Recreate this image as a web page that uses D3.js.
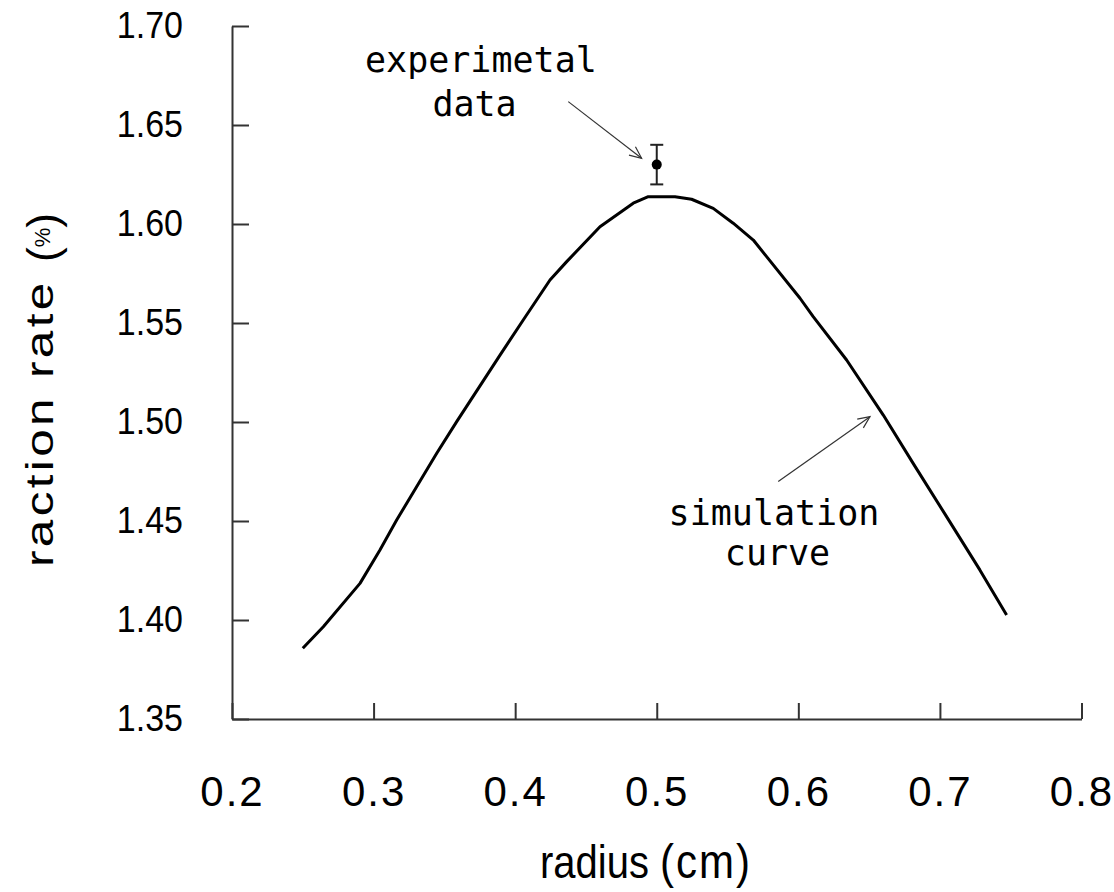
<!DOCTYPE html>
<html>
<head>
<meta charset="utf-8">
<script src="https://cdn.jsdelivr.net/npm/d3@7"></script>
<style>
  html, body { margin: 0; padding: 0; background: #fff; }
  svg { display: block; }
</style>
</head>
<body>
<svg id="chart" width="1114" height="892"></svg>
<script>
// ---- data ----
const simRadius = [0.25, 0.2645, 0.2904, 0.3045, 0.3163, 0.3304, 0.3446, 0.3587, 0.3893, 0.4057, 0.4246, 0.4364, 0.4599, 0.4834, 0.494, 0.5129, 0.5246, 0.5399, 0.554, 0.5682, 0.5776, 0.6012, 0.6105, 0.6341, 0.66, 0.6811, 0.7047, 0.7282, 0.7471];
const simRate   = [1.3857, 1.3966, 1.4185, 1.4354, 1.4505, 1.4673, 1.4842, 1.5002, 1.5338, 1.5515, 1.5717, 1.581, 1.5986, 1.6105, 1.6138, 1.6138, 1.6125, 1.6079, 1.6004, 1.5919, 1.5835, 1.5625, 1.5532, 1.5313, 1.5035, 1.4791, 1.4522, 1.4253, 1.4025];
const expRadius = [0.5];
const expRate   = [1.63];
const expErr    = [0.01];
const xTicks = [0.2, 0.3, 0.4, 0.5, 0.6, 0.7, 0.8];
const yTicks = [1.35, 1.40, 1.45, 1.50, 1.55, 1.60, 1.65, 1.70];
const xTitle = "radius";
const xUnit = "(cm)";
const yTitle = "raction rate";
const yUnit = ["(", "%", ")"];

const svg = d3.select("#chart");
const x = d3.scaleLinear().domain([0.2, 0.8]).range([232, 1081.5]);
const y = d3.scaleLinear().domain([1.35, 1.70]).range([719, 26]);

const tf = "'Liberation Sans', Arial, sans-serif";

// axes
const gx = svg.append("g").attr("transform", `translate(0,${y(1.35)})`)
  .call(d3.axisBottom(x).tickValues(xTicks).tickFormat(d3.format(".1f"))
    .tickSizeInner(-16).tickSizeOuter(0).tickPadding(57));
const gy = svg.append("g").attr("transform", `translate(${x(0.2)},0)`)
  .call(d3.axisLeft(y).tickValues(yTicks).tickFormat(d3.format(".2f"))
    .tickSizeInner(-17).tickSizeOuter(0).tickPadding(49));
[gx, gy].forEach(g => {
  g.select(".domain").attr("stroke", "#333").attr("stroke-width", 2);
  g.selectAll(".tick line").attr("stroke", "#333").attr("stroke-width", 2);
  g.selectAll(".tick text").attr("fill", "#000")
    .style("font-family", tf);
});
gx.selectAll(".tick text").style("font-size", "42px").style("letter-spacing", "2px");
gy.selectAll(".tick text").style("font-size", "34px").attr("transform", "scale(1,1.1)");

// simulation curve
const simData = simRadius.map((r, i) => [r, simRate[i]]);
svg.append("path").datum(simData)
  .attr("fill", "none").attr("stroke", "#000").attr("stroke-width", 3)
  .attr("stroke-linejoin", "round")
  .attr("d", d3.line().x(d => x(d[0])).y(d => y(d[1])));

// experimental point with error bar
const expData = expRadius.map((r, i) => ({r, v: expRate[i], e: expErr[i]}));
const ge = svg.append("g");
ge.selectAll("line.eb").data(expData).join("line").attr("class", "eb")
  .attr("x1", d => x(d.r)).attr("x2", d => x(d.r))
  .attr("y1", d => y(d.v + d.e)).attr("y2", d => y(d.v - d.e))
  .attr("stroke", "#222").attr("stroke-width", 2);
[1, -1].forEach(s => {
  ge.selectAll(null).data(expData).join("line")
    .attr("x1", d => x(d.r) - 6.5).attr("x2", d => x(d.r) + 6.5)
    .attr("y1", d => y(d.v + s * d.e)).attr("y2", d => y(d.v + s * d.e))
    .attr("stroke", "#222").attr("stroke-width", 2);
});
ge.selectAll("circle").data(expData).join("circle")
  .attr("cx", d => x(d.r)).attr("cy", d => y(d.v)).attr("r", 5).attr("fill", "#000");

// annotations (positions in data units)
const annFont = "'DejaVu Sans Mono', 'Liberation Mono', monospace";
function label(txt, dx, dy) {
  svg.append("text").attr("x", x(dx)).attr("y", y(dy))
    .attr("text-anchor", "middle").attr("fill", "#000")
    .style("font-family", annFont).style("font-size", "35px").text(txt);
}
label("experimetal", 0.3758, 1.6768);
label("data", 0.3713, 1.6545);
label("simulation", 0.5828, 1.448);
label("curve", 0.5853, 1.4278);

function arrow(x0, y0, x1, y1) {
  const X0 = x(x0), Y0 = y(y0), X1 = x(x1), Y1 = y(y1);
  const a = Math.atan2(Y1 - Y0, X1 - X0);
  const L = 13, w = 0.42;
  const g = svg.append("g").attr("stroke", "#333").attr("stroke-width", 1.2).attr("fill", "none");
  g.append("line").attr("x1", X0).attr("y1", Y0).attr("x2", X1).attr("y2", Y1);
  g.append("path").attr("d",
    `M${X1 - L * Math.cos(a - w)},${Y1 - L * Math.sin(a - w)}L${X1},${Y1}L${X1 - L * Math.cos(a + w)},${Y1 - L * Math.sin(a + w)}`);
}
arrow(0.4375, 1.6618, 0.4893, 1.6332);
arrow(0.5858, 1.4699, 0.6506, 1.5027);

// axis titles
const xt = svg.append("text").attr("transform", "translate(540,878) scale(1,1.15)")
  .attr("fill", "#000").style("font-family", tf).style("font-size", "40px");
xt.append("tspan").text(xTitle + " ");
xt.append("tspan").style("font-size", "42px").style("letter-spacing", "2px").text(xUnit);

svg.append("text").attr("transform", "translate(53,567) rotate(-90) scale(1.3,1)")
  .attr("fill", "#000").style("font-family", tf).style("font-size", "38px")
  .style("letter-spacing", "2.6px")
  .text(yTitle);
const yu = svg.append("text").attr("transform", "translate(55,262) rotate(-90)")
  .attr("fill", "#000").style("font-family", tf).style("font-size", "44px");
yu.append("tspan").attr("dy", "3").text(yUnit[0]);
yu.append("tspan").attr("dy", "-8").style("font-size", "22px").text(yUnit[1]);
yu.append("tspan").attr("dy", "8").text(yUnit[2]);
</script>
</body>
</html>
